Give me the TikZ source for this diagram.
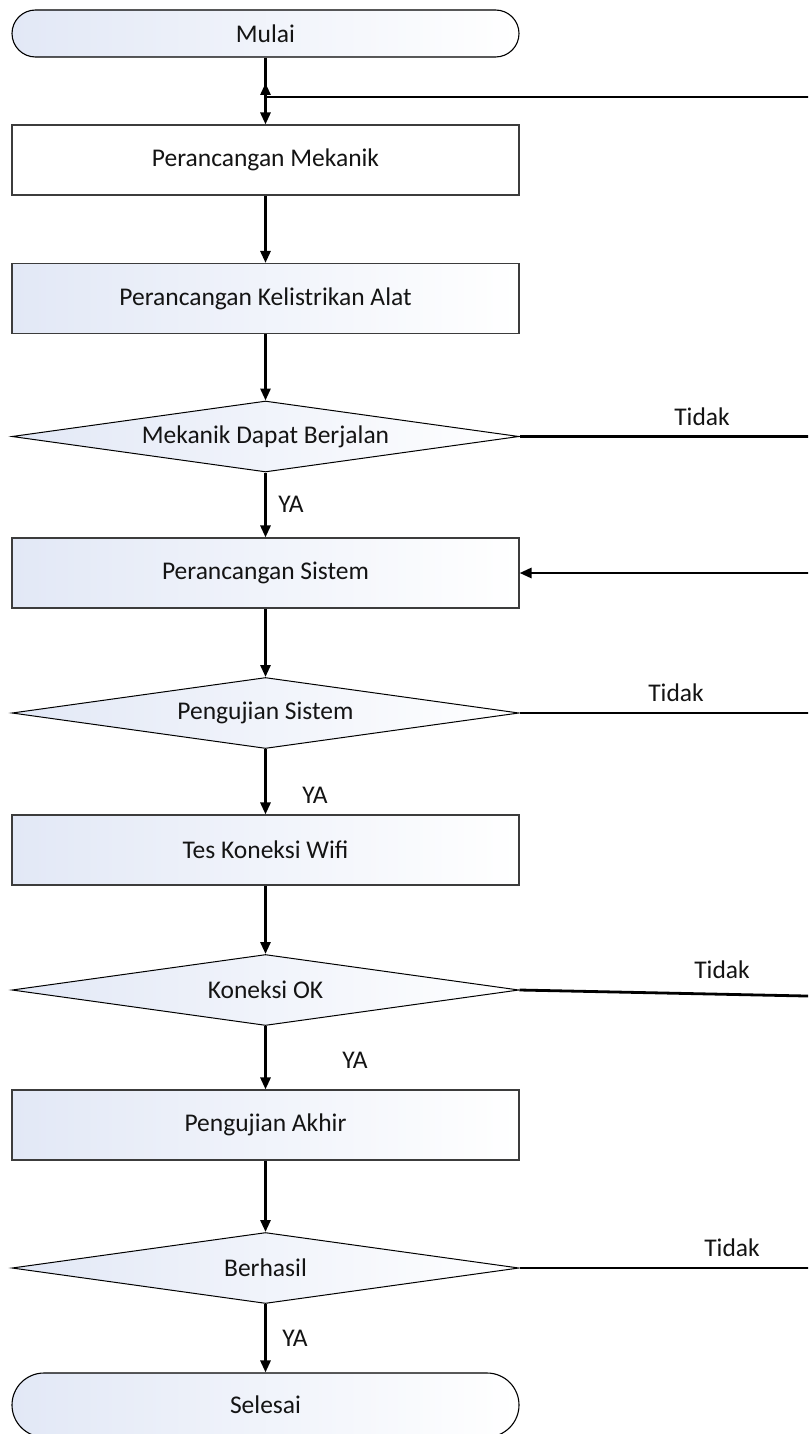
\documentclass[tikz,border=0pt]{standalone}
\usepackage{fontspec}
\setmainfont{Carlito}
\usetikzlibrary{shapes.geometric,arrows.meta}
\definecolor{gradblue}{RGB}{226,232,246}
\definecolor{edgegrey}{RGB}{60,60,60}
\definecolor{txt}{RGB}{20,20,20}
\begin{document}
\begin{tikzpicture}[x=1pt,y=-1pt,
  every node/.style={font=\fontsize{25.5}{30}\selectfont, text=txt},
  shadefill/.style={left color=gradblue, right color=white},
  procbox/.style={draw=edgegrey, line width=1.1pt, rectangle, minimum width=507pt, minimum height=70pt, inner sep=0pt, shadefill},
  plainbox/.style={draw=edgegrey, line width=1.1pt, rectangle, minimum width=507pt, minimum height=70pt, inner sep=0pt, fill=white},
  decision/.style={draw=black, line width=1pt, diamond, aspect=7.14, minimum width=507pt, minimum height=71pt, inner sep=0pt, shadefill},
  terminal/.style={draw=black, line width=1.1pt, rectangle, minimum width=507pt, inner sep=0pt, shadefill},
  conn/.style={draw=black, line width=2.8pt},
  arr/.style={conn, -{Triangle[length=12pt,width=10pt]}},
  lbl/.style={inner sep=0pt}
]
\useasboundingbox (0,0) rectangle (808,1434);
\clip (0,0) rectangle (808,1434);
\fill[white] (0,0) rectangle (808,1434);

% nodes
\node[terminal, minimum height=47pt, rounded corners=23.5pt] (mulai) at (265.5,33.5) {Mulai};
\node[plainbox] (b1) at (265.5,160) {Perancangan Mekanik};
\node[procbox] (b2) at (265.5,298.5) {Perancangan Kelistrikan Alat};
\node[decision] (d1) at (265.5,436.5) {Mekanik Dapat Berjalan};
\node[procbox] (b3) at (265.5,573) {Perancangan Sistem};
\node[decision] (d2) at (265.5,713) {Pengujian Sistem};
\node[procbox] (b4) at (265.5,850) {Tes Koneksi Wifi};
\node[decision] (d3) at (265.5,990) {Koneksi OK};
\node[procbox] (b5) at (265.5,1125) {Pengujian Akhir};
\node[decision] (d4) at (265.5,1268) {Berhasil};
\node[terminal, minimum height=64pt, rounded corners=32pt] (selesai) at (265.5,1405) {Selesai};

% helper coordinates
\coordinate (J) at (265.5,97);
\coordinate (Jtip) at (265.5,83);
\coordinate (c1) at (830,436.5);
\coordinate (c2) at (830,713);
\coordinate (c3) at (830,996.5);
\coordinate (c4) at (830,1268);
\coordinate (cb3) at (830,573);

% main flow
\draw[arr] (mulai.south) -- (b1.north);
\draw[arr] (b1.south) -- (b2.north);
\draw[arr] (b2.south) -- (d1.north);
\draw[arr] (d1.south) -- (b3.north);
\draw[arr] (b3.south) -- (d2.north);
\draw[arr] (d2.south) -- (b4.north);
\draw[arr] (b4.south) -- (d3.north);
\draw[arr] (d3.south) -- (b5.north);
\draw[arr] (b5.south) -- (d4.north);
\draw[arr] (d4.south) -- (selesai.north);

% loops (right side runs outside the visible area)
\draw[arr] (d1.east) -- (c1) -- (c1 |- J) -- (J) -- (Jtip);
\draw[arr] (d2.east) -- (c2) -- (cb3) -- (b3.east);
\draw[conn] (d3.east) -- (c3) -- (cb3);
\draw[conn] (d4.east) -- (c4) -- (cb3);

% labels
\node[lbl] (t1) at (702,417) {Tidak};
\node[lbl] (t2) at (676,693) {Tidak};
\node[lbl] (t3) at (722,970) {Tidak};
\node[lbl] (t4) at (732,1248) {Tidak};
\node[lbl] (y1) at (291,504) {YA};
\node[lbl] (y2) at (315,795) {YA};
\node[lbl] (y3) at (355,1060) {YA};
\node[lbl] (y4) at (295,1338) {YA};
\end{tikzpicture}
\end{document}
